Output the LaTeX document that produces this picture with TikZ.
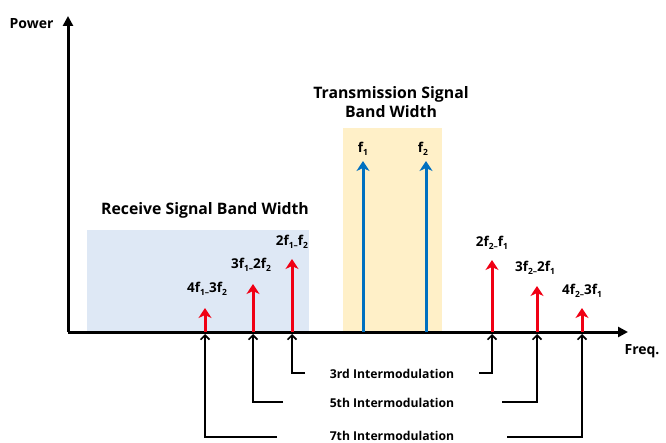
\documentclass[tikz,border=0pt]{standalone}
\usepackage{fontspec}
\setmainfont{Open Sans}
\usetikzlibrary{arrows.meta}
\definecolor{rxfill}{RGB}{222,232,245}
\definecolor{txfill}{RGB}{255,240,200}
\definecolor{sigred}{RGB}{240,0,20}
\definecolor{sigblue}{RGB}{0,112,192}
\newcommand{\lo}[1]{\raisebox{-0.35ex}{\fontsize{8.5}{8.5}\selectfont #1}}
\tikzset{
  axisline/.style={line width=3pt,-{Triangle[length=10pt,width=10pt]}},
  redsig/.style={sigred,line width=3pt,-{Stealth[length=10pt,width=13pt,inset=3pt]}},
  bluesig/.style={sigblue,line width=3pt,-{Stealth[length=10pt,width=13pt,inset=3pt]}},
  imarrow/.style={line width=1.6pt,-{Straight Barb[length=4.5pt,width=9pt]}},
  biglab/.style={font=\bfseries\fontsize{15.8}{19}\selectfont,align=center},
  axlab/.style={font=\bfseries\fontsize{14}{16}\selectfont},
  siglab/.style={font=\bfseries\fontsize{13.5}{15}\selectfont},
  imlab/.style={font=\bfseries\fontsize{12.2}{14}\selectfont},
}
\begin{document}
\begin{tikzpicture}[x=1pt,y=-1pt]
\useasboundingbox (0,0) rectangle (666,443);
% bands
\fill[rxfill] (87,230) rectangle (309,332);
\fill[txfill] (343,128) rectangle (442,332);
% axes
\coordinate (o) at (68,332);
\coordinate (ytip) at (68,16);
\coordinate (xtip) at (628,332);
\draw[axisline] (o) -- (ytip);
\draw[axisline] (o) -- (xtip);
\node[axlab,anchor=east] (power) at (57,24) {Power};
\node[axlab] (freq) at (642,351) {Freq.};
% titles
\node[biglab] (rxt) at (205,210) {Receive Signal Band Width};
\node[biglab] (txt) at (391,102) {Transmission Signal\\Band Width};
% base coordinates on axis
\foreach \n/\x in {a/205,b/253,c/292,d/363,e/426,f/492,g/537,h/582}{
  \coordinate (base\n) at (\x,332);
  \coordinate (im\n) at (\x,334);
}
% signals
\coordinate (tipa) at (205,308);
\coordinate (tipb) at (253,284);
\coordinate (tipc) at (292,259);
\coordinate (tipd) at (363,161);
\coordinate (tipe) at (426,161);
\coordinate (tipf) at (492,260);
\coordinate (tipg) at (537,286);
\coordinate (tiph) at (582,308);
\draw[redsig] (basea) -- (tipa);
\draw[redsig] (baseb) -- (tipb);
\draw[redsig] (basec) -- (tipc);
\draw[bluesig] (based) -- (tipd);
\draw[bluesig] (basee) -- (tipe);
\draw[redsig] (basef) -- (tipf);
\draw[redsig] (baseg) -- (tipg);
\draw[redsig] (baseh) -- (tiph);
% signal labels
\node[siglab] (la) at (207,289) {4f\lo{1–}3f\lo{2}};
\node[siglab] (lb) at (251,265) {3f\lo{1–}2f\lo{2}};
\node[siglab] (lc) at (292,242) {2f\lo{1–}f\lo{2}};
\node[siglab] (ld) at (363,149) {f\lo{1}};
\node[siglab] (le) at (423,149) {f\lo{2}};
\node[siglab] (lf) at (492,243) {2f\lo{2–}f\lo{1}};
\node[siglab] (lg) at (535,268) {3f\lo{2–}2f\lo{1}};
\node[siglab] (lh) at (582,291) {4f\lo{2–}3f\lo{1}};
% intermodulation labels
\node[imlab] (im3) at (392,374) {3rd Intermodulation};
\node[imlab] (im5) at (392,403) {5th Intermodulation};
\node[imlab] (im7) at (392,436) {7th Intermodulation};
\coordinate (l3) at (305,373);
\coordinate (r3) at (479,373);
\coordinate (l5) at (283,402);
\coordinate (r5) at (502,402);
\coordinate (l7) at (277,437);
\coordinate (r7) at (507,437);
\draw[imarrow] (l3) -| (imc);
\draw[imarrow] (r3) -| (imf);
\draw[imarrow] (l5) -| (imb);
\draw[imarrow] (r5) -| (img);
\draw[imarrow] (l7) -| (ima);
\draw[imarrow] (r7) -| (imh);
\end{tikzpicture}
\end{document}
